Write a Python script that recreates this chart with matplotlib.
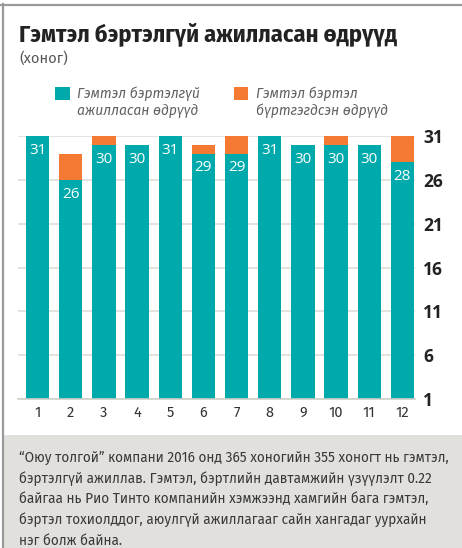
import matplotlib
matplotlib.use("Agg")
import matplotlib.pyplot as plt
from matplotlib.patches import Rectangle
from matplotlib.lines import Line2D

months = [str(m) for m in range(1, 13)]
safe_days = [31, 26, 30, 30, 31, 29, 29, 31, 30, 30, 30, 28]
injury_days = [0, 3, 1, 0, 0, 1, 2, 0, 0, 1, 0, 3]
y_ticks = [1, 6, 11, 16, 21, 26, 31]

title = "Гэмтэл бэртэлгүй ажилласан өдрүүд"
subtitle = "(хоног)"
legend_labels = ["Гэмтэл бэртэлгүй\nажилласан өдрүүд", "Гэмтэл бэртэл\nбүртгэгдсэн өдрүүд"]
note_lines = [
    "“Оюу толгой” компани 2016 онд 365 хоногийн 355 хоногт нь гэмтэл,",
    "бэртэлгүй ажиллав. Гэмтэл, бэртлийн давтамжийн үзүүлэлт 0.22",
    "байгаа нь Рио Тинто компанийн хэмжээнд хамгийн бага гэмтэл,",
    "бэртэл тохиолддог, аюулгүй ажиллагааг сайн хангадаг уурхайн",
    "нэг болж байна.",
]

TEAL = "#00a9ab"
ORANGE = "#f47a33"
GRID = "#deddd8"

TITLE_FONT = ["Fira Sans Condensed", "Fira Sans Extra Condensed", "DejaVu Sans"]
BODY_FONT = ["Fira Sans", "Roboto", "DejaVu Sans"]
UI_FONT = ["Open Sans", "DejaVu Sans"]

W, H = 462, 548
fig = plt.figure(figsize=(W / 100, H / 100), dpi=100)
fig.patch.set_facecolor("white")

def fx(px):
    return px / W

def fy(py):
    return 1 - py / H

# frame lines
fig.add_artist(Line2D([0, 1], [fy(4.5), fy(4.5)], color="#9a9a9a", lw=1.6, transform=fig.transFigure))
fig.add_artist(Line2D([fx(2.5), fx(2.5)], [fy(4), 0], color="#9a9a9a", lw=1.6, transform=fig.transFigure))

# bottom note box
fig.add_artist(Rectangle((fx(3.5), 0), 1 - fx(3.5), fy(435), facecolor="#e1e0dc", edgecolor="none",
                         transform=fig.transFigure, zorder=0))

# title
fig.text(fx(19), fy(41), title, fontsize=17.5, fontweight="bold", color="#222222",
         family=TITLE_FONT, va="baseline", ha="left")
fig.text(fx(19), fy(63), subtitle, fontsize=10.5, color="#555555",
         family=BODY_FONT, va="baseline", ha="left")

# legend
for lab, col, sx, tx in zip(legend_labels, [TEAL, ORANGE], [55, 234], [77, 256]):
    fig.add_artist(Rectangle((fx(sx), fy(100)), fx(14.5), 13.5 / H, facecolor=col, edgecolor="none",
                             transform=fig.transFigure))
    fig.text(fx(tx), fy(86), lab, fontsize=10, style="italic", color="#606060",
             family=BODY_FONT, va="top", ha="left", linespacing=1.25)

# chart axes
ax = fig.add_axes([fx(18), fy(399), fx(415) - fx(18), (399 - 136) / H])
x = list(range(1, 13))
ax.bar(x, safe_days, width=0.7, color=TEAL, zorder=2)
ax.bar(x, injury_days, width=0.7, bottom=safe_days, color=ORANGE, zorder=2)
for xi, v in zip(x, safe_days):
    ax.annotate(str(v), (xi, v), xytext=(0, -5), textcoords="offset points", ha="center", va="top",
                color="white", fontsize=11, family=UI_FONT, zorder=3)

ax.set_ylim(1, 31)
ax.set_xlim(0.41, 12.38)
ax.set_yticks(y_ticks)
ax.set_xticks(x)
ax.set_xticklabels(months)
ax.yaxis.tick_right()
ax.tick_params(axis="y", length=0, pad=6, labelsize=12.5, labelcolor="#222222")
ax.tick_params(axis="x", length=0, pad=5, labelsize=10.5, labelcolor="#333333")
for lab in ax.get_yticklabels():
    lab.set_fontweight("bold")
    lab.set_family(UI_FONT)
for lab in ax.get_xticklabels():
    lab.set_family(BODY_FONT)
ax.grid(axis="y", color=GRID, lw=1.2, zorder=0)
ax.grid(axis="x", visible=False)
for s in ["top", "left", "right"]:
    ax.spines[s].set_visible(False)
ax.spines["bottom"].set_color("#d0cfca")
ax.spines["bottom"].set_linewidth(1.2)
ax.set_facecolor("none")

# note text
for i, line in enumerate(note_lines):
    fig.text(fx(19), fy(462 + i * 20.6), line, fontsize=9.85, color="#383838",
             family=BODY_FONT, va="baseline", ha="left")

fig.savefig("out.png", dpi=100)
